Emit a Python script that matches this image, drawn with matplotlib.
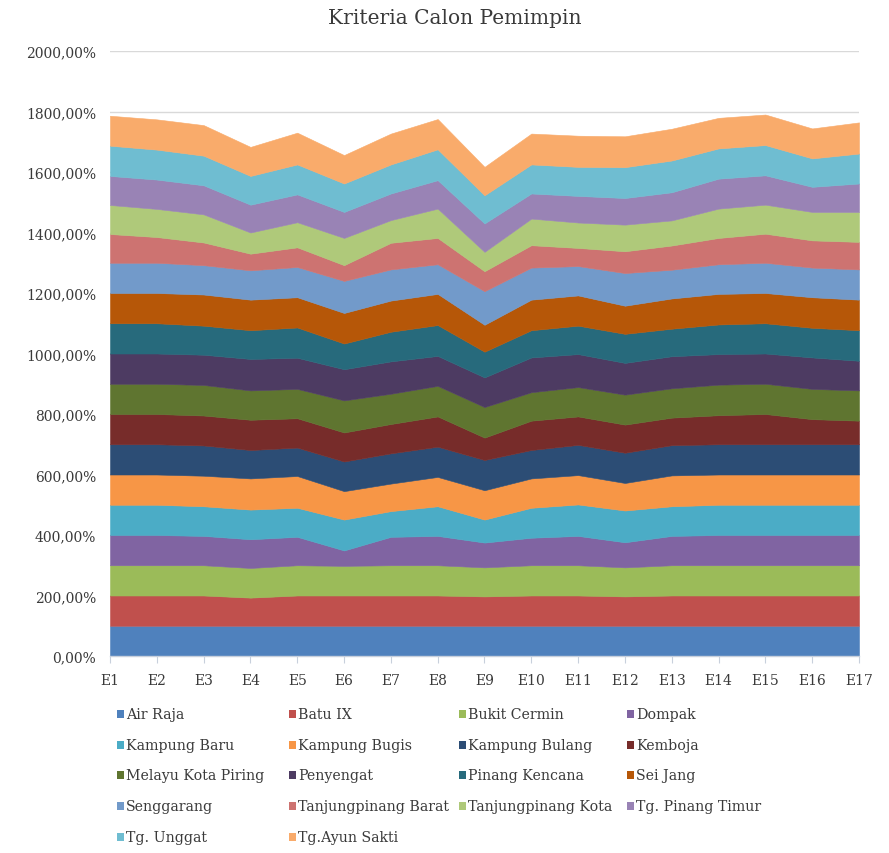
import matplotlib
matplotlib.use("Agg")
import matplotlib.pyplot as plt
from matplotlib.ticker import FuncFormatter, MultipleLocator
from matplotlib.patches import Rectangle

plt.rcParams["font.family"] = ["DejaVu Serif", "Liberation Serif"]

categories = ["E1", "E2", "E3", "E4", "E5", "E6", "E7", "E8", "E9",
              "E10", "E11", "E12", "E13", "E14", "E15", "E16", "E17"]

# percentage per area (kelurahan) for each criterion E1..E17
air_raja = [100, 100, 100, 100, 100, 100, 100, 100, 100, 100, 100, 100, 100, 100, 100, 100, 100]
batu_ix = [100, 100, 100, 93, 100, 100, 100, 100, 97, 100, 100, 97, 100, 100, 100, 100, 100]
bukit_cermin = [100, 100, 100, 98, 100, 98, 100, 100, 96, 100, 100, 96, 100, 100, 100, 100, 100]
dompak = [100, 100, 97, 95, 94, 51, 94, 97, 82, 91, 97, 83, 97, 100, 100, 100, 100]
kampung_baru = [100, 100, 98, 98, 96, 102, 85, 98, 76, 99, 104, 105, 98, 100, 100, 100, 100]
kampung_bugis = [100, 100, 101, 103, 105, 94, 91, 97, 97, 97, 97, 91, 102, 100, 100, 100, 100]
kampung_bulang = [100, 100, 100, 94, 94, 98, 100, 100, 100, 94, 100, 100, 100, 100, 100, 100, 100]
kemboja = [100, 100, 99, 100, 97, 96, 97, 100, 74, 97, 94, 93, 91, 96, 100, 83, 78]
melayu_kota_piring = [100, 100, 101, 97, 97, 106, 100, 101, 101, 94, 97, 99, 97, 101, 100, 100, 100]
penyengat = [100, 100, 100, 104, 103, 103, 107, 99, 98, 115, 109, 105, 106, 101, 100, 104, 98]
pinang_kencana = [100, 100, 96, 95, 100, 85, 98, 102, 85, 90, 94, 96, 91, 98, 100, 98, 101]
sei_jang = [100, 100, 103, 101, 100, 101, 103, 103, 89, 101, 100, 93, 100, 101, 100, 101, 101]
senggarang = [100, 100, 97, 97, 100, 106, 103, 98, 111, 106, 97, 108, 95, 98, 100, 98, 100]
tanjungpinang_barat = [95, 85, 75, 55, 65, 52, 88, 87, 66, 74, 60, 72, 80, 87, 96, 90, 91]
tanjungpinang_kota = [96, 93, 93, 70, 83, 90, 75, 97, 64, 88, 84, 88, 83, 97, 96, 94, 99]
tg_pinang_timur = [96, 97, 96, 92, 92, 86, 88, 94, 94, 83, 88, 88, 93, 99, 97, 83, 94]
tg_unggat = [100, 99, 98, 95, 99, 94, 96, 102, 93, 96, 96, 102, 105, 100, 100, 94, 99]
tg_ayun_sakti = [99, 100, 101, 96, 105, 94, 102, 100, 94, 102, 103, 102, 105, 101, 101, 99, 103]

series_names = ["Air Raja", "Batu IX", "Bukit Cermin", "Dompak",
                "Kampung Baru", "Kampung Bugis", "Kampung Bulang", "Kemboja",
                "Melayu Kota Piring", "Penyengat", "Pinang Kencana", "Sei Jang",
                "Senggarang", "Tanjungpinang Barat", "Tanjungpinang Kota", "Tg. Pinang Timur",
                "Tg. Unggat", "Tg.Ayun Sakti"]

series_values = [air_raja, batu_ix, bukit_cermin, dompak,
                 kampung_baru, kampung_bugis, kampung_bulang, kemboja,
                 melayu_kota_piring, penyengat, pinang_kencana, sei_jang,
                 senggarang, tanjungpinang_barat, tanjungpinang_kota, tg_pinang_timur,
                 tg_unggat, tg_ayun_sakti]

colors = ["#4F81BD", "#C0504D", "#9BBB59", "#8064A2",
          "#4BACC6", "#F79646", "#2C4D75", "#772C2A",
          "#5F7530", "#4D3B62", "#276A7C", "#B65708",
          "#729ACA", "#CD7371", "#AFC97A", "#9983B5",
          "#6FBDD1", "#F9AB6B"]

W, H = 889, 854
fig = plt.figure(figsize=(W / 100, H / 100), dpi=100)
ax = fig.add_axes([110 / W, 1 - 657 / H, (859 - 110) / W, (657 - 52) / H])

x = list(range(len(categories)))
polys = ax.stackplot(x, *series_values, colors=colors, labels=series_names)
for p, c in zip(polys, colors):
    p.set_edgecolor(c)
    p.set_linewidth(0.4)

ax.set_xlim(0, len(categories) - 1)
ax.set_ylim(0, 2000)
ax.yaxis.set_major_locator(MultipleLocator(200))
ax.yaxis.set_major_formatter(FuncFormatter(lambda v, pos: f"{v:.2f}".replace(".", ",") + "%"))
ax.set_xticks(x)
ax.set_xticklabels(categories)

ax.grid(axis="y", color="#D9D9D9", linewidth=1.0)
ax.set_axisbelow(True)
for side in ("left", "right", "top"):
    ax.spines[side].set_visible(False)
ax.spines["bottom"].set_color("#C8D0DC")
ax.spines["bottom"].set_linewidth(1.0)
ax.tick_params(axis="y", length=0, pad=10, labelsize=10, labelcolor="#3A3A3A")
ax.tick_params(axis="x", length=5, width=0.8, color="#C8D0DC", pad=7,
               labelsize=10, labelcolor="#3A3A3A")

fig.text(455 / W, 1 - 18 / H, "Kriteria Calon Pemimpin", ha="center", va="center",
         fontsize=14.5, color="#3A3A3A")

# legend laid out row by row, four entries per row
col_x = [117, 289, 459, 627]
row_y0, row_dy = 715, 30.7
for i, (name, c) in enumerate(zip(series_names, colors)):
    r, k = divmod(i, 4)
    px = col_x[k]
    py = row_y0 + r * row_dy
    fig.patches.append(Rectangle((px / W, 1 - (py + 4) / H), 7 / W, 8 / H,
                                 transform=fig.transFigure, facecolor=c,
                                 edgecolor="none"))
    fig.text((px + 9) / W, 1 - py / H, name, ha="left", va="center",
             fontsize=10.2, color="#3A3A3A")

fig.savefig("out.png", dpi=100)
